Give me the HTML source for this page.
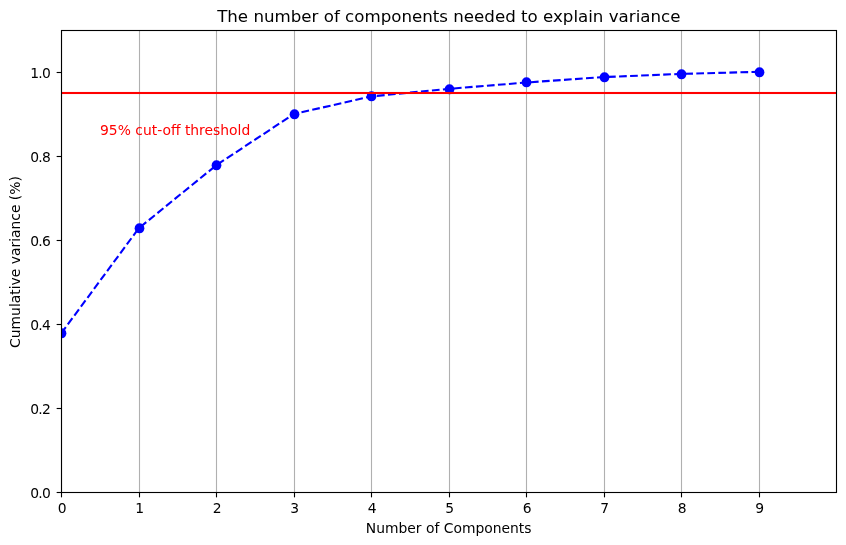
<!DOCTYPE html>
<html lang="en"><head><meta charset="utf-8"><title>The number of components needed to explain variance</title>
<style>html,body{margin:0;padding:0;background:#fff;}body{width:846px;height:545px;overflow:hidden;}svg{display:block;}text{font-family:"DejaVu Sans", "Liberation Sans", sans-serif;fill:#000;}</style></head><body>
<svg width="846" height="545" viewBox="0 0 846 545">
<defs><clipPath id="ax"><rect x="61" y="30" width="775" height="462"/></clipPath></defs>
<rect width="846" height="545" fill="#fff"/>
<g stroke="#b0b0b0" stroke-width="1.111" fill="none" clip-path="url(#ax)">
<line x1="61.5" y1="30" x2="61.5" y2="492"/>
<line x1="139.5" y1="30" x2="139.5" y2="492"/>
<line x1="216.5" y1="30" x2="216.5" y2="492"/>
<line x1="294.5" y1="30" x2="294.5" y2="492"/>
<line x1="371.5" y1="30" x2="371.5" y2="492"/>
<line x1="449.5" y1="30" x2="449.5" y2="492"/>
<line x1="526.5" y1="30" x2="526.5" y2="492"/>
<line x1="604.5" y1="30" x2="604.5" y2="492"/>
<line x1="681.5" y1="30" x2="681.5" y2="492"/>
<line x1="759.5" y1="30" x2="759.5" y2="492"/>
</g>
<g stroke="#000" stroke-width="1.111" fill="none">
<line x1="61.5" y1="492.5" x2="61.5" y2="497.36"/>
<line x1="139.5" y1="492.5" x2="139.5" y2="497.36"/>
<line x1="216.5" y1="492.5" x2="216.5" y2="497.36"/>
<line x1="294.5" y1="492.5" x2="294.5" y2="497.36"/>
<line x1="371.5" y1="492.5" x2="371.5" y2="497.36"/>
<line x1="449.5" y1="492.5" x2="449.5" y2="497.36"/>
<line x1="526.5" y1="492.5" x2="526.5" y2="497.36"/>
<line x1="604.5" y1="492.5" x2="604.5" y2="497.36"/>
<line x1="681.5" y1="492.5" x2="681.5" y2="497.36"/>
<line x1="759.5" y1="492.5" x2="759.5" y2="497.36"/>
<line x1="61.5" y1="492.5" x2="56.64" y2="492.5"/>
<line x1="61.5" y1="408.5" x2="56.64" y2="408.5"/>
<line x1="61.5" y1="324.5" x2="56.64" y2="324.5"/>
<line x1="61.5" y1="240.5" x2="56.64" y2="240.5"/>
<line x1="61.5" y1="156.5" x2="56.64" y2="156.5"/>
<line x1="61.5" y1="72.5" x2="56.64" y2="72.5"/>
</g>
<g font-size="13.889" text-anchor="middle">
<text x="62.10" y="513.28">0</text>
<text x="139.60" y="513.28">1</text>
<text x="217.10" y="513.28">2</text>
<text x="294.60" y="513.28">3</text>
<text x="372.10" y="513.28">4</text>
<text x="449.60" y="513.28">5</text>
<text x="527.10" y="513.28">6</text>
<text x="604.60" y="513.28">7</text>
<text x="682.10" y="513.28">8</text>
<text x="759.60" y="513.28">9</text>
</g>
<text font-size="13.889" text-anchor="middle" x="448.70" y="533.27">Number of Components</text>
<g font-size="13.889">
<text x="30.19 38.13 42.04" y="498.38">0.0</text>
<text x="30.19 38.13 42.04" y="414.38">0.2</text>
<text x="30.19 38.13 42.04" y="330.38">0.4</text>
<text x="30.19 38.13 42.04" y="246.38">0.6</text>
<text x="30.19 38.13 42.04" y="162.38">0.8</text>
<text x="30.19 38.13 42.04" y="78.38">1.0</text>
</g>
<text font-size="13.889" text-anchor="middle" transform="translate(19.75 262.00) rotate(-90)">Cumulative variance (%)</text>
<g clip-path="url(#ax)">
<polyline points="61.25,333.29 138.75,228.29 216.25,165.29 293.75,114.05 371.25,96.41 448.75,88.85 526.25,82.51 603.75,77.09 681.25,73.90 758.75,71.84" fill="none" stroke="#0000ff" stroke-width="2.083" stroke-dasharray="7.708 3.333" stroke-dashoffset="0.00" stroke-linejoin="round"/>
<ellipse cx="61.50" cy="333.35" rx="4.861" ry="5.011" fill="#0000ff"/>
<ellipse cx="139.50" cy="228.35" rx="4.861" ry="5.011" fill="#0000ff"/>
<ellipse cx="216.50" cy="165.35" rx="4.861" ry="5.011" fill="#0000ff"/>
<ellipse cx="294.50" cy="114.35" rx="4.861" ry="5.011" fill="#0000ff"/>
<ellipse cx="371.50" cy="96.35" rx="4.861" ry="5.011" fill="#0000ff"/>
<ellipse cx="449.50" cy="89.35" rx="4.861" ry="5.011" fill="#0000ff"/>
<ellipse cx="526.50" cy="82.35" rx="4.861" ry="5.011" fill="#0000ff"/>
<ellipse cx="604.50" cy="77.35" rx="4.861" ry="5.011" fill="#0000ff"/>
<ellipse cx="681.50" cy="74.35" rx="4.861" ry="5.011" fill="#0000ff"/>
<ellipse cx="759.50" cy="72.35" rx="4.861" ry="5.011" fill="#0000ff"/>
<rect x="61" y="91.958" width="775" height="2.083" fill="#ff0000"/>
</g>
<rect x="61.5" y="30.5" width="775" height="462" fill="none" stroke="#000" stroke-width="1.111"/>
<text font-size="13.889" x="100.05" y="135.00" style="fill:#ff0000">95% cut-off threshold</text>
<text font-size="16.667" text-anchor="middle" x="448.80" y="21.67">The number of components needed to explain variance</text>
</svg></body></html>
